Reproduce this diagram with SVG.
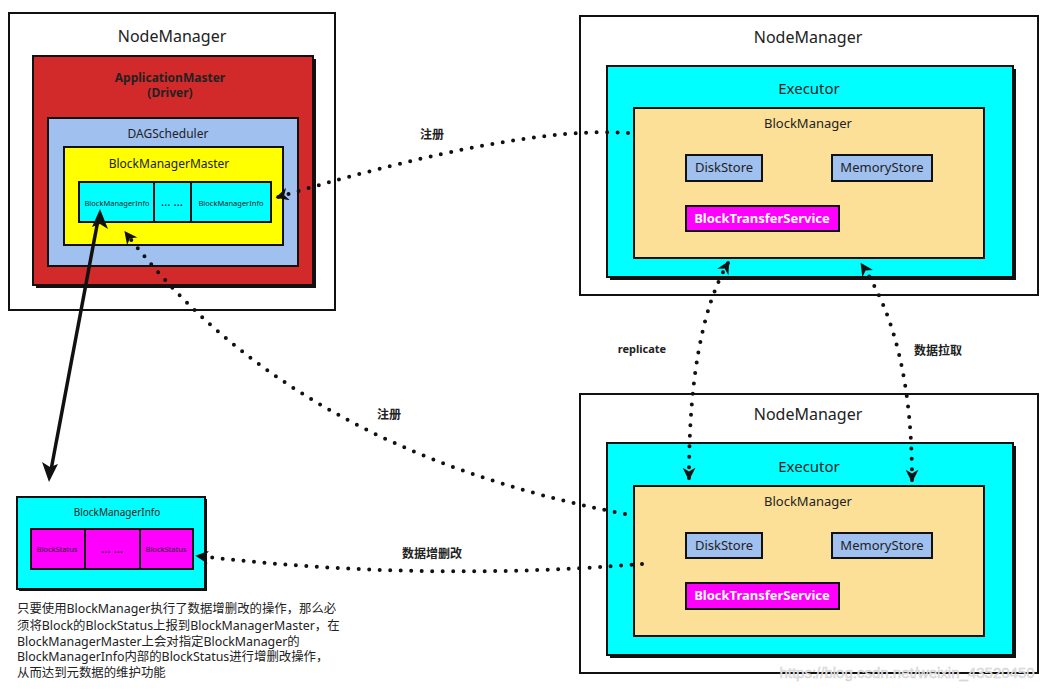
<svg xmlns="http://www.w3.org/2000/svg" width="1052" height="692" viewBox="0 0 1052 692">
<style>
text{font-family:"Noto Sans","Noto Sans CJK SC",sans-serif;fill:#222;text-anchor:middle}
.box{stroke:#111;stroke-width:2}
.shadow{fill:#111}
.nm{fill:#fff}
.red{fill:#d22a2a}
.blue{fill:#a0c0f0}
.yel{fill:#ffff00}
.cyan{fill:#00ffff}
.org{fill:#fde097}
.mag{fill:#ff00ff}
.t16{font-size:16px}
.t15{font-size:15px}
.t13{font-size:13px}
.t12{font-size:12px}
.b{font-weight:bold}
.tiny{font-size:7.5px}
.dot{fill:none;stroke:#111;stroke-width:4;stroke-linecap:round;stroke-dasharray:0 10.5}
.lbl{font-size:12px;font-weight:bold;fill:#222}
.para{font-size:12.4px;text-anchor:start;fill:#222}
</style>
<defs>
<marker id="ah" viewBox="0 0 10 10" refX="8" refY="5" markerWidth="13" markerHeight="13" markerUnits="userSpaceOnUse" orient="auto-start-reverse">
<path d="M0,0 L10,5 L0,10 L3,5 z" fill="#111"/>
</marker>
</defs>
<rect width="1052" height="692" fill="#fff"/>

<g id="driver-node">
<rect class="box nm" x="9" y="13" width="326" height="297"/>
<text class="t16" x="172" y="42">NodeManager</text>
<rect class="shadow" x="36" y="59" width="280" height="229"/>
<rect class="box red" x="33" y="56" width="280" height="229"/>
<text class="t12 b" x="170" y="82" fill="#222">ApplicationMaster</text>
<text class="t12 b" x="170" y="97">(Driver)</text>
<rect class="box blue" x="48" y="118" width="250" height="148"/>
<text class="t12" x="168" y="138">DAGScheduler</text>
<rect class="box yel" x="64" y="147" width="219" height="98"/>
<text class="t12" x="169" y="168">BlockManagerMaster</text>
<rect class="box cyan" x="79" y="182" width="192" height="40"/>
<line class="box" x1="154" y1="182" x2="154" y2="222"/>
<line class="box" x1="191" y1="182" x2="191" y2="222"/>
<text class="tiny" x="117" y="206">BlockManagerInfo</text>
<text class="t12" x="172" y="206">… …</text>
<text class="tiny" x="231" y="206">BlockManagerInfo</text>
</g>

<g id="executor-node-1">
<rect class="box nm" x="580" y="16" width="458" height="279"/>
<text class="t16" x="808" y="43">NodeManager</text>
<rect class="shadow" x="610" y="69" width="406" height="211"/>
<rect class="box cyan" x="607" y="66" width="406" height="211"/>
<text class="t15" x="809" y="94">Executor</text>
<rect class="box org" x="634" y="108" width="350" height="150"/>
<text class="t13" x="808" y="128">BlockManager</text>
<rect class="box blue" x="686" y="155" width="76" height="26"/>
<text class="t13" x="724" y="172">DiskStore</text>
<rect class="box blue" x="832" y="155" width="100" height="26"/>
<text class="t13" x="882" y="172">MemoryStore</text>
<rect class="box mag" x="686" y="206" width="153" height="25"/>
<text class="t13 b" x="762" y="223" style="fill:#fff">BlockTransferService</text>
</g>

<g id="executor-node-2">
<rect class="box nm" x="580" y="394" width="458" height="279"/>
<text class="t16" x="808" y="420">NodeManager</text>
<rect class="shadow" x="610" y="446" width="406" height="212"/>
<rect class="box cyan" x="607" y="443" width="406" height="212"/>
<text class="t15" x="809" y="472">Executor</text>
<rect class="box org" x="634" y="486" width="350" height="150"/>
<text class="t13" x="808" y="506">BlockManager</text>
<rect class="box blue" x="686" y="533" width="76" height="25"/>
<text class="t13" x="724" y="550">DiskStore</text>
<rect class="box blue" x="832" y="533" width="100" height="25"/>
<text class="t13" x="882" y="550">MemoryStore</text>
<rect class="box mag" x="686" y="583" width="153" height="26"/>
<text class="t13 b" x="762" y="600" style="fill:#fff">BlockTransferService</text>
</g>

<g id="block-manager-info">
<rect class="shadow" x="19" y="499" width="188" height="92"/>
<rect class="box cyan" x="17" y="497" width="188" height="92"/>
<text class="t12" x="117" y="516" style="font-size:10px">BlockManagerInfo</text>
<rect class="box mag" x="31" y="529" width="162" height="40"/>
<line class="box" x1="85" y1="529" x2="85" y2="569"/>
<line class="box" x1="140" y1="529" x2="140" y2="569"/>
<text class="tiny" x="57" y="552">BlockStatus</text>
<text class="t12" x="112" y="553">… …</text>
<text class="tiny" x="166" y="552">BlockStatus</text>
</g>

<g id="note">
<text class="para" x="17" y="613">只要使用BlockManager执行了数据增删改的操作，那么必</text>
<text class="para" x="17" y="630">须将Block的BlockStatus上报到BlockManagerMaster，在</text>
<text class="para" x="17" y="646">BlockManagerMaster上会对指定BlockManager的</text>
<text class="para" x="17" y="661">BlockManagerInfo内部的BlockStatus进行增删改操作，</text>
<text class="para" x="17" y="677">从而达到元数据的维护功能</text>
</g>

<g id="connectors">
<path class="dot" d="M628,133 Q520,125 278,197" marker-end="url(#ah)"/>
<text class="lbl" x="432" y="139">注册</text>
<path class="dot" d="M625,514 Q290,450 126,233" marker-end="url(#ah)"/>
<text class="lbl" x="389" y="419">注册</text>
<path class="dot" d="M689,478 Q689,330 728,263" marker-start="url(#ah)" marker-end="url(#ah)"/>
<text class="lbl" x="642" y="353" style="font-size:11px">replicate</text>
<path class="dot" d="M912,480 Q912,340 862,265" marker-start="url(#ah)" marker-end="url(#ah)"/>
<text class="lbl" x="938" y="355">数据拉取</text>
<path class="dot" d="M642,564 Q420,582 198,556" marker-end="url(#ah)"/>
<text class="lbl" x="432" y="558">数据增删改</text>
<line x1="98" y1="220" x2="51" y2="470" stroke="#111" stroke-width="3.5"/>
<path d="M100,209 L108,229 L100,224 L92,227 z" fill="#111"/>
<path d="M49,482 L42,462 L50,467 L58,464 z" fill="#111"/>
</g>

<text x="907" y="678" style="font-family:'Liberation Sans',sans-serif;font-size:15px;fill:#e6e6e6;stroke:#cccccc;stroke-width:0.4">https://blog.csdn.net/weixin_43520450</text>
</svg>
